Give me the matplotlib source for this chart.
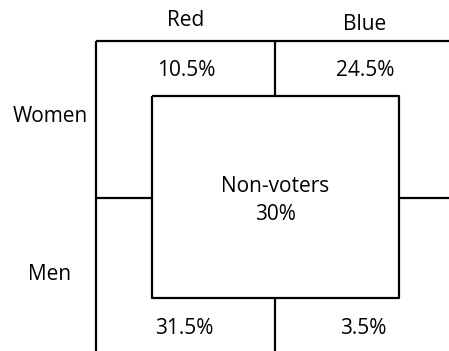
import matplotlib.pyplot as plt

plt.rcParams['font.family'] = ['Open Sans', 'DejaVu Sans']

# data
parties = ['Red', 'Blue']
genders = ['Women', 'Men']
shares = [[10.5, 24.5],   # women: red, blue
          [31.5, 3.5]]    # men: red, blue
non_voters = 30

fig = plt.figure(figsize=(4.49, 3.51), dpi=100)
ax = fig.add_axes([0, 0, 1, 1])
ax.set_xlim(0, 449)
ax.set_ylim(351, 0)
ax.axis('off')

lw = 1.6
k = dict(color='black', lw=lw, solid_capstyle='butt')

# grid lines
left, top, mid_x, mid_y = 96, 41, 275, 198
bx0, bx1, by0, by1 = 152, 399, 96, 298
ax.plot([left, left], [top, 351], **k)
ax.plot([left, 449], [top, top], **k)
ax.plot([mid_x, mid_x], [top, by0], **k)
ax.plot([mid_x, mid_x], [by1, 351], **k)
ax.plot([left, bx0], [mid_y, mid_y], **k)
ax.plot([bx1, 449], [mid_y, mid_y], **k)
ax.plot([bx0, bx1, bx1, bx0, bx0], [by0, by0, by1, by1, by0], **k)

fs = 15
col_x = [186, 365]
row_y = [70, 329]
ax.text(col_x[0], 21, parties[0], ha='center', va='center', fontsize=fs)
ax.text(col_x[1], 24, parties[1], ha='center', va='center', fontsize=fs)
ax.text(50, 117, genders[0], ha='center', va='center', fontsize=fs)
ax.text(50, 274, genders[1], ha='center', va='center', fontsize=fs)

for i in range(2):
    for j in range(2):
        ax.text(col_x[j] - (2 if i else 0), row_y[i], f'{shares[i][j]}%', ha='center', va='center', fontsize=fs)

ax.text(mid_x, 187, 'Non-voters', ha='center', va='center', fontsize=fs)
ax.text(mid_x, 214, f'{non_voters}%', ha='center', va='center', fontsize=fs)

fig.savefig('out.png', dpi=100)
